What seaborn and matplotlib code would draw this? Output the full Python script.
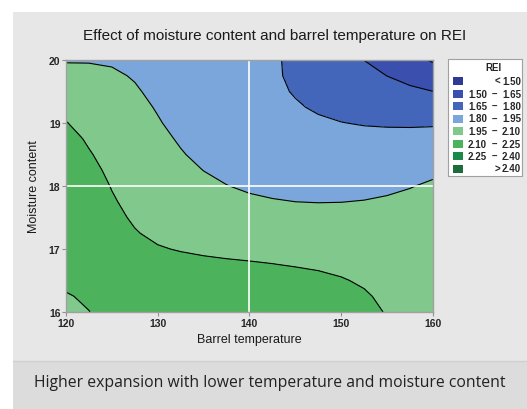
import numpy as np
import matplotlib
matplotlib.use('Agg')
import matplotlib.pyplot as plt
import seaborn as sns
from matplotlib.patches import Rectangle

# Response surface (rows = moisture 16 -> 20, cols = temperature 120 -> 160)
temperature = [120, 122.5, 125, 127.5, 130, 132.5, 135, 137.5, 140,
               142.5, 145, 147.5, 150, 152.5, 155, 157.5, 160]
moisture = [16.0, 16.25, 16.5, 16.75, 17.0, 17.25, 17.5, 17.75, 18.0,
            18.25, 18.5, 18.75, 19.0, 19.25, 19.5, 19.75, 20.0]
rei = [
    [2.050, 2.098, 2.140, 2.177, 2.207, 2.232, 2.240, 2.243, 2.243, 2.241, 2.235, 2.216, 2.184, 2.142, 2.091, 2.030, 1.960],
    [2.091, 2.117, 2.141, 2.162, 2.179, 2.193, 2.202, 2.206, 2.205, 2.199, 2.187, 2.168, 2.144, 2.113, 2.076, 2.032, 1.981],
    [2.125, 2.133, 2.141, 2.148, 2.153, 2.157, 2.159, 2.158, 2.155, 2.148, 2.138, 2.125, 2.108, 2.086, 2.061, 2.031, 1.997],
    [2.153, 2.145, 2.139, 2.134, 2.129, 2.125, 2.120, 2.115, 2.110, 2.103, 2.094, 2.085, 2.073, 2.060, 2.045, 2.027, 2.007],
    [2.174, 2.153, 2.135, 2.120, 2.106, 2.095, 2.085, 2.076, 2.068, 2.061, 2.054, 2.047, 2.041, 2.034, 2.027, 2.020, 2.013],
    [2.189, 2.157, 2.129, 2.105, 2.084, 2.067, 2.052, 2.040, 2.031, 2.023, 2.017, 2.012, 2.010, 2.008, 2.008, 2.009, 2.011],
    [2.197, 2.156, 2.120, 2.090, 2.063, 2.041, 2.023, 2.008, 1.996, 1.988, 1.982, 1.979, 1.979, 1.981, 1.986, 1.993, 2.003],
    [2.197, 2.151, 2.109, 2.074, 2.043, 2.017, 1.996, 1.979, 1.965, 1.956, 1.950, 1.948, 1.949, 1.953, 1.961, 1.972, 1.986],
    [2.191, 2.141, 2.096, 2.057, 2.024, 1.995, 1.971, 1.952, 1.937, 1.927, 1.920, 1.918, 1.919, 1.924, 1.933, 1.946, 1.963],
    [2.179, 2.127, 2.080, 2.040, 2.005, 1.975, 1.949, 1.929, 1.913, 1.901, 1.893, 1.889, 1.890, 1.894, 1.902, 1.915, 1.932],
    [2.160, 2.108, 2.063, 2.022, 1.987, 1.956, 1.930, 1.909, 1.891, 1.877, 1.868, 1.862, 1.860, 1.862, 1.868, 1.877, 1.891],
    [2.135, 2.087, 2.044, 2.005, 1.971, 1.941, 1.914, 1.892, 1.873, 1.857, 1.845, 1.836, 1.831, 1.828, 1.830, 1.835, 1.843],
    [2.104, 2.062, 2.023, 1.988, 1.956, 1.927, 1.901, 1.878, 1.858, 1.840, 1.825, 1.812, 1.802, 1.794, 1.789, 1.786, 1.787],
    [2.069, 2.034, 2.002, 1.972, 1.944, 1.917, 1.892, 1.869, 1.847, 1.827, 1.808, 1.790, 1.773, 1.758, 1.745, 1.733, 1.722],
    [2.030, 2.005, 1.981, 1.957, 1.934, 1.911, 1.888, 1.864, 1.841, 1.817, 1.794, 1.770, 1.746, 1.722, 1.698, 1.674, 1.651],
    [1.987, 1.974, 1.960, 1.945, 1.928, 1.909, 1.888, 1.865, 1.840, 1.813, 1.784, 1.753, 1.720, 1.685, 1.649, 1.611, 1.571],
    [1.942, 1.944, 1.942, 1.936, 1.926, 1.912, 1.894, 1.871, 1.845, 1.814, 1.779, 1.740, 1.696, 1.649, 1.598, 1.544, 1.486],
]
levels = [1.50, 1.65, 1.80, 1.95, 2.10, 2.25, 2.40]
colors = ['#2e3a94', '#3a4fae', '#4466ba', '#7aa6dc', '#80c88c', '#4cb35c', '#1a8a48', '#1b6e3a']
x_ticks = [120, 130, 140, 150, 160]
y_ticks = [16, 17, 18, 19, 20]

title = 'Effect of moisture content and barrel temperature on REI'
caption = 'Higher expansion with lower temperature and moisture content'

sns.set_style('white')
plt.rcParams['font.family'] = ['Liberation Sans', 'DejaVu Sans']
narrow = ['Liberation Sans Narrow', 'Liberation Sans', 'DejaVu Sans']

fig = plt.figure(figsize=(5.27, 4.10), dpi=100, facecolor='white')

# grey panel and caption strip
fig.patches.append(Rectangle((0.0247, 0.117), 1.0, 0.851, transform=fig.transFigure,
                             facecolor='#e7e7e7', edgecolor='none', zorder=-10))
fig.patches.append(Rectangle((0.0247, 0.0), 1.0, 0.117, transform=fig.transFigure,
                             facecolor='#dcdcdc', edgecolor='none', zorder=-10))
fig.add_artist(plt.Line2D([0.0247, 1.0], [0.117, 0.117], transform=fig.transFigure,
                          color='#d0d0d0', lw=1))

ax = fig.add_axes([0.1252, 0.2366, 0.6964, 0.6146])
T, M = np.meshgrid(temperature, moisture)
Z = np.array(rei)
bounds = [Z.min() - 1] + levels + [Z.max() + 1]
ax.contourf(T, M, Z, levels=bounds, colors=colors)
ax.contour(T, M, Z, levels=levels, colors='black', linewidths=0.8)
ax.axvline(140, color='white', lw=1.2)
ax.axhline(18, color='white', lw=1.2)

ax.set_xlim(120, 160)
ax.set_ylim(16, 20)
ax.set_xticks(x_ticks)
ax.set_yticks(y_ticks)
ax.tick_params(axis='both', direction='out', length=3, width=0.8, color='#909090',
               labelsize=7.5, pad=1, bottom=True, left=True)
for lab in ax.get_xticklabels() + ax.get_yticklabels():
    lab.set_family(narrow)
    lab.set_fontweight('bold')
for s in ax.spines.values():
    s.set_color('#a0a0a0')
    s.set_linewidth(1)

ax.set_xlabel('Barrel temperature', fontsize=9, color='#1a1a1a', labelpad=4)
ax.set_ylabel('Moisture content', fontsize=9, color='#1a1a1a', labelpad=6)

fig.text(0.522, 0.912, title, ha='center', va='center', fontsize=11, color='#1a1a1a')
fig.text(0.512, 0.066, caption, ha='center', va='center', fontsize=11.3,
         family=['Open Sans', 'DejaVu Sans'], color='#222222')

# legend box
W, H = 527.0, 410.0
fig.patches.append(Rectangle((448 / W, 1 - 177 / H), 74 / W, 117 / H, transform=fig.transFigure,
                             facecolor='white', edgecolor='#a0a0a0', lw=0.8, zorder=5))
fig.text(493 / W, 1 - 68 / H, 'REI', ha='center', va='center', fontsize=7,
         fontweight='bold', family=narrow, zorder=6)
row_y = [82, 94.5, 107, 119.5, 132, 144.5, 157, 169.5]
for i, col in enumerate(colors):
    y = 1 - row_y[i] / H
    fig.patches.append(Rectangle((453 / W, y - 4 / H), 10 / W, 8 / H, transform=fig.transFigure,
                                 facecolor=col, edgecolor='none', zorder=6))
    kw = dict(va='center', fontsize=7, fontweight='bold', family=narrow, zorder=6)
    if i == 0:
        fig.text(497 / W, y, '<', ha='center', **kw)
        fig.text(521 / W, y, f'{levels[0]:.2f}', ha='right', **kw)
    elif i == len(colors) - 1:
        fig.text(497 / W, y, '>', ha='center', **kw)
        fig.text(521 / W, y, f'{levels[-1]:.2f}', ha='right', **kw)
    else:
        fig.text(487 / W, y, f'{levels[i - 1]:.2f}', ha='right', **kw)
        fig.text(494 / W, y, '\u2013', ha='center', **kw)
        fig.text(521 / W, y, f'{levels[i]:.2f}', ha='right', **kw)

fig.savefig('out.png', dpi=100, facecolor=fig.get_facecolor())
